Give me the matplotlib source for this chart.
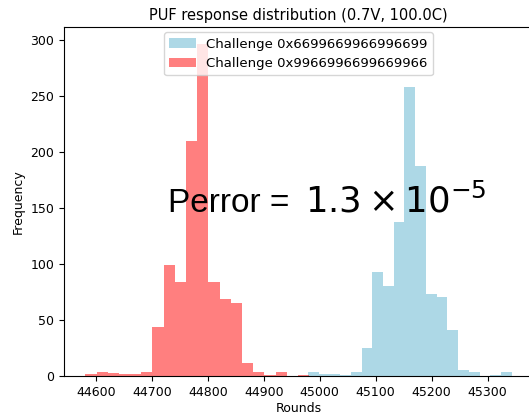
import numpy as np
import matplotlib
matplotlib.use("Agg")
import matplotlib.pyplot as plt

# Bin edges (rounds) and counts
red_start, red_end, red_nbins = 44581, 44981, 20
red_counts = [2, 4, 3, 2, 2, 4, 44, 99, 84, 210, 297, 84, 69, 65, 12, 4, 1, 4, 0, 1]

blue_start, blue_end, blue_nbins = 44979, 45343, 19
blue_counts = [4, 2, 2, 1, 4, 25, 93, 80, 138, 258, 188, 73, 71, 41, 5, 4, 0, 1, 4]

blue_label = "Challenge 0x6699669966996699"
red_label = "Challenge 0x9966996699669966"
title = "PUF response distribution (0.7V, 100.0C)"

plt.rcParams["mathtext.fontset"] = "dejavusans"
plt.rcParams["xtick.labelsize"] = 9
plt.rcParams["ytick.labelsize"] = 9
plt.rcParams["axes.labelsize"] = 9
plt.rcParams["axes.titlesize"] = 10.5
plt.rcParams["legend.fontsize"] = 9.5

red_edges = np.linspace(red_start, red_end, red_nbins + 1)
blue_edges = np.linspace(blue_start, blue_end, blue_nbins + 1)

fig = plt.figure(figsize=(5.29, 4.15), dpi=100)
ax = fig.add_axes([64 / 529, 1 - 376 / 415, (533 - 64) / 529, (376 - 27) / 415])

ax.hist(blue_edges[:-1], bins=blue_edges, weights=blue_counts, color="lightblue", label=blue_label)
ax.hist(red_edges[:-1], bins=red_edges, weights=red_counts, color="red", alpha=0.5, label=red_label)

ax.set_xticks([44600, 44700, 44800, 44900, 45000, 45100, 45200, 45300])
ax.set_yticks([0, 50, 100, 150, 200, 250, 300])
ax.set_xlabel("Rounds", labelpad=2)
ax.set_ylabel("Frequency")
ax.set_title(title, pad=5)
ax.legend(loc="upper center", borderaxespad=0.4)

fig.text(168 / 529, 1 - 212 / 415, "Perror =", family="Liberation Sans", fontsize=24,
         ha="left", va="baseline")
fig.text(305 / 529, 1 - 212 / 415, r"$1.3\times10^{-5}$", fontsize=25.5,
         ha="left", va="baseline")

fig.savefig("out.png", dpi=100)
